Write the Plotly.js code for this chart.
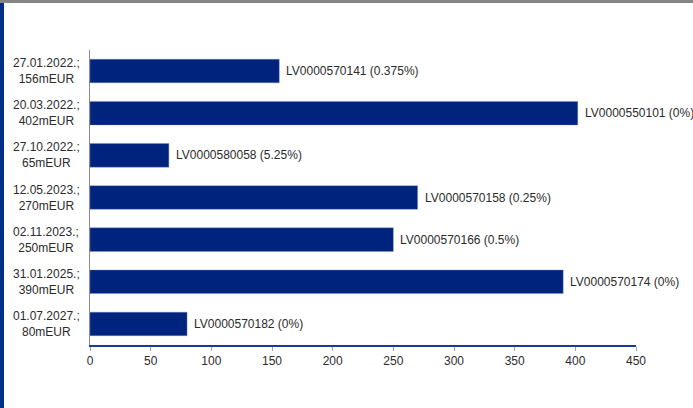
<!DOCTYPE html>
<html>
<head>
<meta charset="utf-8">
<script src="https://cdn.plot.ly/plotly-3.0.1.min.js"></script>
<style>
  html, body { margin: 0; padding: 0; background: #fff; }
  #chart { width: 693px; height: 408px; }
</style>
</head>
<body>
<div id="chart"></div>
<script>
// Maturity dates, outstanding amounts (mEUR) and ISIN labels of the bonds
const maturities = ['27.01.2022.', '20.03.2022.', '27.10.2022.', '12.05.2023.', '02.11.2023.', '31.01.2025.', '01.07.2027.'];
const amounts = [156, 402, 65, 270, 250, 390, 80];
const isins = ['LV0000570141 (0.375%)', 'LV0000550101 (0%)', 'LV0000580058 (5.25%)', 'LV0000570158 (0.25%)',
               'LV0000570166 (0.5%)', 'LV0000570174 (0%)', 'LV0000570182 (0%)'];
const xTicks = [0, 50, 100, 150, 200, 250, 300, 350, 400, 450];

const navy = 'rgb(0,36,125)';
const textColor = '#2b2b2b';
const font = 'Liberation Sans, Arial, sans-serif';

const cats = maturities.map((d, i) => d + ' ' + i);

const trace = {
  type: 'bar',
  orientation: 'h',
  x: amounts,
  y: cats,
  width: 0.56,
  marker: { color: navy, line: { color: 'rgba(120,140,200,0.6)', width: 0.6 } },
  cliponaxis: false,
  hoverinfo: 'skip'
};

// ISIN labels placed just past the end of each bar
const barLabels = isins.map((t, i) => ({
  xref: 'x', yref: 'y',
  x: amounts[i], y: cats[i],
  text: t,
  showarrow: false,
  xanchor: 'left', yanchor: 'middle',
  xshift: 5,
  font: { family: font, size: 12, color: textColor }
}));

// Two-line centred category labels: date and amount
const catLabels = maturities.map((d, i) => ({
  xref: 'paper', yref: 'y',
  x: -0.08, y: cats[i],
  text: d + ';<br>' + amounts[i] + 'mEUR',
  showarrow: false,
  xanchor: 'center', yanchor: 'middle',
  align: 'center',
  font: { family: font, size: 12, color: textColor }
}));

const layout = {
  width: 693, height: 408,
  margin: { l: 90, r: 57, t: 50, b: 63 },
  paper_bgcolor: '#ffffff',
  plot_bgcolor: '#ffffff',
  showlegend: false,
  xaxis: {
    range: [0, 450],
    tickvals: xTicks,
    ticktext: xTicks.map(String),
    ticks: 'outside', ticklen: 4, tickwidth: 1, tickcolor: '#8ea6d6',
    showgrid: false, zeroline: false,
    showline: true, linecolor: '#1d3c8f', linewidth: 1.5,
    tickfont: { family: font, size: 12, color: textColor },
    fixedrange: true
  },
  yaxis: {
    type: 'category',
    categoryorder: 'array', categoryarray: cats.slice().reverse(),
    showticklabels: false, ticks: '',
    showgrid: false, zeroline: false,
    showline: true, linecolor: '#8a8a8a', linewidth: 1.5,
    fixedrange: true
  },
  annotations: barLabels.concat(catLabels),
  shapes: [
    // frame: grey strip along the top, navy strip down the left side
    { type: 'rect', xref: 'paper', yref: 'paper', x0: -0.17, x1: 1.11, y0: 1.159, y1: 1.18,
      fillcolor: '#858585', line: { width: 0 }, layer: 'above' },
    { type: 'rect', xref: 'paper', yref: 'paper', x0: -0.17, x1: -0.1575, y0: -0.22, y1: 1.159,
      fillcolor: '#00318a', line: { width: 0 }, layer: 'above' }
  ]
};

Plotly.newPlot('chart', [trace], layout, { displayModeBar: false, staticPlot: true });
</script>
</body>
</html>
